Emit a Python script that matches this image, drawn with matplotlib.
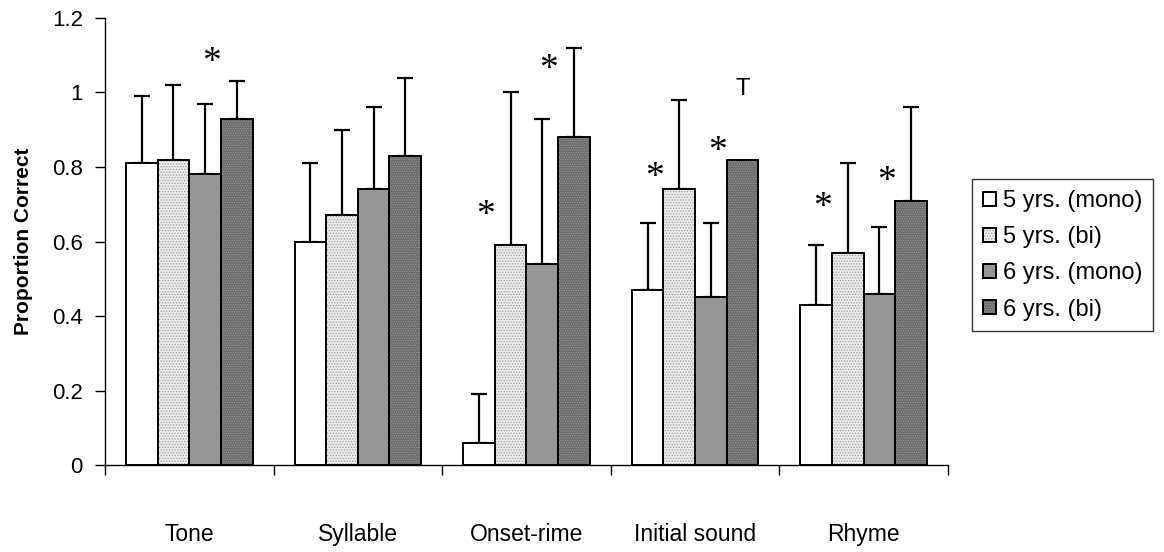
import matplotlib
matplotlib.use("Agg")
import matplotlib.pyplot as plt
import numpy as np

plt.rcParams['font.family'] = ['Liberation Sans', 'DejaVu Sans']
plt.rcParams['hatch.linewidth'] = 0.6

categories = ["Tone", "Syllable", "Onset-rime", "Initial sound", "Rhyme"]
series_names = ["5 yrs. (mono)", "5 yrs. (bi)", "6 yrs. (mono)", "6 yrs. (bi)"]
mono5 = [0.81, 0.60, 0.06, 0.47, 0.43]
bi5 = [0.82, 0.67, 0.59, 0.74, 0.57]
mono6 = [0.78, 0.74, 0.54, 0.45, 0.46]
bi6 = [0.93, 0.83, 0.88, 0.82, 0.71]
# upper error bar lengths (NaN = none drawn)
err_mono5 = [0.18, 0.21, 0.13, 0.18, 0.16]
err_bi5 = [0.20, 0.23, 0.41, 0.24, 0.24]
err_mono6 = [0.19, 0.22, 0.39, 0.20, 0.18]
err_bi6 = [0.10, 0.21, 0.24, np.nan, 0.25]
# significance markers: (category index, series index, y)
stars = [(0, 2, 1.08), (2, 0, 0.67), (2, 2, 1.06), (3, 0, 0.77), (3, 2, 0.84),
         (4, 0, 0.69), (4, 2, 0.76)]
trend_marks = [(3, 3, 1.01, "T")]

values = [mono5, bi5, mono6, bi6]
errors = [err_mono5, err_bi5, err_mono6, err_bi6]
faces = ["white", "#ececec", "#969696", "#6a6a6a"]
hatches = [None, "......", None, "......."]
hatch_cols = [None, "#9a9a9a", None, "#9a9a9a"]

fig = plt.figure(figsize=(11.64, 5.52), dpi=100)
ax = fig.add_axes([0.0902, 0.1576, 0.7242, 0.8098])

n = len(categories)
x = np.arange(n)
w = 0.1875
offsets = (np.arange(4) - 1.5) * w

handles = []
for i in range(4):
    bars = ax.bar(x + offsets[i], values[i], width=w, color=faces[i],
                  edgecolor="black", linewidth=1.4, zorder=2, label=series_names[i])
    if hatches[i]:
        for b in bars:
            b.set_hatch(hatches[i])
            b._hatch_color = matplotlib.colors.to_rgba(hatch_cols[i])
    handles.append(bars)
    err = np.array(errors[i])
    ok = ~np.isnan(err)
    lower = np.zeros(ok.sum())
    ax.errorbar((x + offsets[i])[ok], np.array(values[i])[ok],
                yerr=[lower, err[ok]], fmt="none", ecolor="black",
                elinewidth=1.6, capsize=5.5, capthick=1.6, zorder=1)

for ci, si, yv in stars:
    ax.text(x[ci] + offsets[si] + 0.04, yv, "*", ha="center", va="center",
            fontsize=27, family="Liberation Serif")
for ci, si, yv, s in trend_marks:
    ax.text(x[ci] + offsets[si], yv, s, ha="center", va="center", fontsize=17)

ax.set_xlim(-0.5, n - 0.5)
ax.set_ylim(0, 1.2)
ax.set_yticks([0, 0.2, 0.4, 0.6, 0.8, 1.0, 1.2])
ax.set_yticklabels(["0", "0.2", "0.4", "0.6", "0.8", "1", "1.2"], fontsize=16)
ax.set_xticks(x)
ax.set_xticklabels(categories, fontsize=16.5)
ax.tick_params(axis="x", length=0, pad=42)
ax.set_xticks(np.arange(n + 1) - 0.5, minor=True)
ax.tick_params(axis="x", which="minor", length=7, width=1, direction="out")
ax.tick_params(axis="y", length=7, width=1, direction="out", pad=9)
ax.spines["top"].set_visible(False)
ax.spines["right"].set_visible(False)
ax.spines["left"].set_linewidth(1)
ax.spines["bottom"].set_linewidth(1)
ax.set_ylabel("Proportion Correct", fontsize=15, fontweight="bold")
ax.yaxis.set_label_coords(-0.0854, 0.5)

leg = ax.legend(handles=handles, loc="center left", bbox_to_anchor=(1.0285, 0.469),
                fontsize=17, frameon=True, fancybox=False, edgecolor="black",
                handlelength=0.55, handleheight=0.55, handletextpad=0.3,
                labelspacing=0.6, borderpad=0.45, borderaxespad=0)
leg.get_frame().set_linewidth(1)

fig.savefig("out.png", dpi=100)
